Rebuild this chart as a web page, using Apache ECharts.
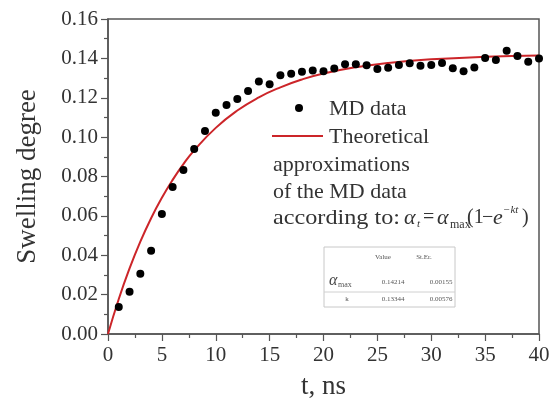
<!DOCTYPE html>
<html>
<head>
<meta charset="utf-8">
<script src="https://cdn.jsdelivr.net/npm/echarts@6/dist/echarts.min.js"></script>
<style>html,body{margin:0;padding:0;background:#fff;}#c{width:550px;height:399px;}</style>
</head>
<body>
<div id="c"></div>
<script>
// MD data (t in ns, swelling degree)
const mdTime = [1,2,3,4,5,6,7,8,9,10,11,12,13,14,15,16,17,18,19,20,21,22,23,24,25,26,27,28,29,30,31,32,33,34,35,36,37,38,39,40];
const mdValues = [0.0137,0.0215,0.0306,0.0423,0.0610,0.0747,0.0833,0.0940,0.1031,0.1124,0.1163,0.1194,0.1234,0.1283,0.1268,0.1314,0.1322,0.1332,0.1339,0.1334,0.1348,0.1370,0.1370,0.1365,0.1346,0.1353,0.1366,0.1375,0.1363,0.1366,0.1376,0.1350,0.1334,0.1354,0.1402,0.1392,0.1439,0.1412,0.1383,0.1400];
// Theoretical curve
const fitTime = [0,1,2,3,4,5,6,7,8,10,12,14,16,18,20,23,26,30,35,40];
const fitValues = [0,0.0178,0.0333,0.0469,0.0588,0.0692,0.0783,0.0863,0.0933,0.1047,0.1135,0.1202,0.1253,0.1293,0.1323,0.1355,0.1377,0.1395,0.1408,0.1415];
// Table values
const tableHeaders = ['Value','St.Er.'];
const tableRows = [['max','0.14214','0.00155'],['k','0.13344','0.00576']];

const SERIF = "'Liberation Serif','Times New Roman',serif";
const TXT = '#333';

const chart = echarts.init(document.getElementById('c'));
const font = (s, it) => (it ? 'italic ' : '') + s + 'px ' + SERIF;
const t = (x, y, text, size, opts, extra) => Object.assign({
  type: 'text', x: x, y: y, z: 100,
  style: Object.assign({ text: text, font: font(size), fill: TXT, verticalAlign: 'middle', textVerticalAlign: 'middle', align: 'left' }, (opts||{}))
}, extra || {});

chart.setOption({
  animation: false,
  backgroundColor: '#fff',
  grid: { left: 108, right: 11, top: 19, bottom: 65, show: true, borderColor: '#555', borderWidth: 1.5, backgroundColor: 'transparent', containLabel: false, outerBoundsMode: 'none' },
  xAxis: {
    type: 'value', min: 0, max: 40, interval: 5,
    name: 't, ns', nameLocation: 'middle', nameGap: 39,
    nameTextStyle: { fontFamily: SERIF, fontSize: 27, color: TXT },
    axisLine: { show: true, lineStyle: { color: '#555', width: 1.5 } },
    axisTick: { show: true, inside: false, length: 7, lineStyle: { color: '#555', width: 1.2 } },
    minorTick: { show: true, splitNumber: 2, length: 4, lineStyle: { color: '#555', width: 1.2 } },
    splitLine: { show: false },
    axisLabel: { fontFamily: SERIF, fontSize: 21, color: TXT, margin: 11 }
  },
  yAxis: {
    type: 'value', min: 0, max: 0.16, interval: 0.02,
    name: 'Swelling degree', nameLocation: 'middle', nameGap: 67,
    nameTextStyle: { fontFamily: SERIF, fontSize: 27, color: TXT },
    axisLine: { show: true, lineStyle: { color: '#555', width: 1.5 } },
    axisTick: { show: true, inside: false, length: 7, lineStyle: { color: '#555', width: 1.2 } },
    minorTick: { show: true, splitNumber: 2, length: 4, lineStyle: { color: '#555', width: 1.2 } },
    splitLine: { show: false },
    axisLabel: { fontFamily: SERIF, fontSize: 21, color: TXT, margin: 10, formatter: v => v.toFixed(2) }
  },
  series: [
    {
      name: 'Theoretical', type: 'line', data: fitTime.map((x,i)=>[x, fitValues[i]]),
      smooth: 0.5, showSymbol: false, symbol: 'none',
      lineStyle: { color: '#cc2529', width: 2 }, z: 2
    },
    {
      name: 'MD data', type: 'scatter', data: mdTime.map((x,i)=>[x, mdValues[i]]),
      symbol: 'circle', symbolSize: 8, itemStyle: { color: '#000', opacity: 1 }, z: 3
    }
  ],
  graphic: [
    // legend
    { type: 'circle', shape: { cx: 299, cy: 108, r: 4 }, style: { fill: '#000' }, z: 100 },
    t(329, 109, 'MD data', 22),
    { type: 'line', shape: { x1: 272, y1: 136, x2: 323, y2: 136 }, style: { stroke: '#cc2529', lineWidth: 2 }, z: 100 },
    t(329, 137, 'Theoretical', 22),
    t(273, 165, 'approximations', 22),
    t(273, 192, 'of the MD data', 22),
    t(273, 218, 'according to:', 22, null, { scaleX: 1.1 }),
    // formula
    t(404, 218, 'α', 22, { font: font(22, true) }),
    t(417, 224, 't', 11, { font: font(11, true) }),
    t(423, 218, '=', 20),
    t(437, 218, 'α', 22, { font: font(22, true) }),
    t(450, 225, 'max', 12),
    t(467, 218, '(1', 20),
    t(482, 218, '−', 20),
    t(493, 218, 'e', 22, { font: font(22, true) }),
    t(503, 210, '−kt', 11, { font: font(11, true) }),
    t(522, 218, ')', 20),
    // table
    { type: 'rect', shape: { x: 324, y: 247, width: 131, height: 60 }, style: { fill: '#fff', stroke: '#c8c8c8', lineWidth: 1 }, z: 99 },
    { type: 'line', shape: { x1: 324, y1: 292, x2: 455, y2: 292 }, style: { stroke: '#d0d0d0', lineWidth: 1 }, z: 100 },
    t(383, 257, tableHeaders[0], 7, { align: 'center', fill: '#555' }),
    t(424, 257, tableHeaders[1], 7, { align: 'center', fill: '#555' }),
    t(329, 281, 'α', 16, { font: font(16, true), fill: '#444' }),
    t(338, 285, tableRows[0][0], 8, { fill: '#555' }),
    t(393, 282, tableRows[0][1], 7, { align: 'center', fill: '#555' }),
    t(441, 282, tableRows[0][2], 7, { align: 'center', fill: '#555' }),
    t(347, 299, tableRows[1][0], 7, { align: 'center', fill: '#555' }),
    t(393, 299, tableRows[1][1], 7, { align: 'center', fill: '#555' }),
    t(441, 299, tableRows[1][2], 7, { align: 'center', fill: '#555' })
  ]
});
</script>
</body>
</html>
